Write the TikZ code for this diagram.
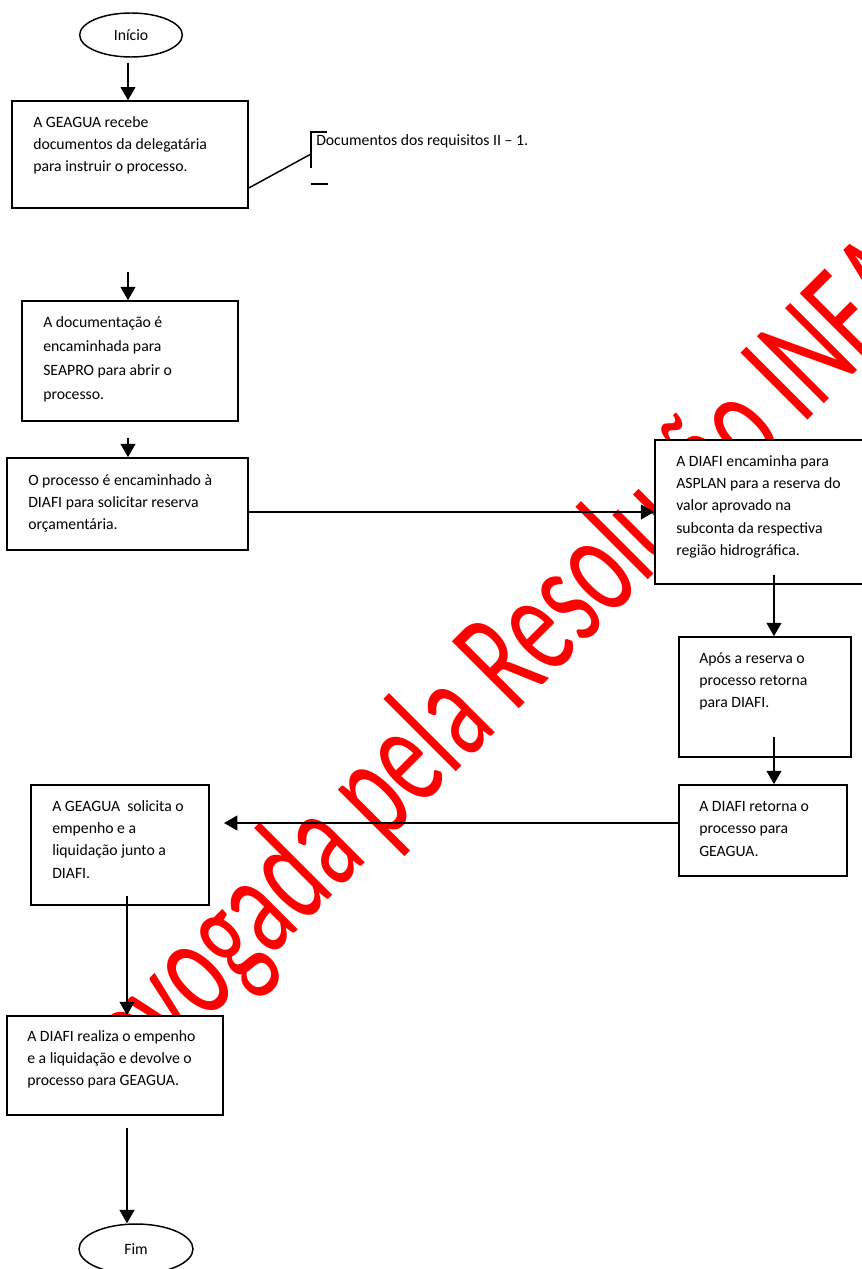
\documentclass[tikz,border=0pt]{standalone}
\usepackage{fontspec}
\setmainfont{Carlito}
\usepackage{graphicx}
\usepackage{tikz}
\usepackage{xcolor}
\usetikzlibrary{shapes.geometric,arrows.meta}

\begin{document}
\begin{tikzpicture}[x=0.75pt,y=-0.75pt,
  box/.style={draw, fill=white, line width=1.2pt, rectangle, inner sep=0pt},
  oval/.style={draw, fill=white, line width=1.1pt, ellipse, inner sep=0pt, font=\fontsize{11.8}{14}\selectfont},
  txt/.style={anchor=north west, align=left, inner sep=0pt, font=\fontsize{11.8}{16.75}\selectfont},
  arr/.style={line width=1.5pt, -{Triangle[length=10pt,width=11pt]}},
  wm/.style={red, inner sep=0pt, font=\fontsize{70.5}{80}\selectfont}]
  % Fix the page to the size of the chart
  \useasboundingbox (0,0) rectangle (861,1269);

  % Red watermark behind everything (stretched upwards)
  \node[wm, rotate=45, anchor=base west] (mark) at (108,1120) {\scalebox{1}[1.57]{Revogada pela Resolução INEA}};

  % Start and end
  \node[oval, minimum width=77pt, minimum height=33pt] (inicio) at (131,35) {Início};
  \node[oval, minimum width=85.5pt, minimum height=37.5pt] (fim) at (136,1249) {Fim};

  % Boxes of the left column
  \node[box, minimum width=177pt, minimum height=80pt] (g1) at (130,154.5) {};
  \node[txt] (t1) at (33,116) {A GEAGUA recebe\\documentos da delegatária\\para instruir o processo.};
  \node[box, minimum width=162pt, minimum height=90pt] (g2) at (130,361) {};
  \node[txt, font=\fontsize{11.8}{18}\selectfont] (t2) at (43,316) {A documentação é\\encaminhada para\\SEAPRO para abrir o\\processo.};
  \node[box, minimum width=180.75pt, minimum height=69pt] (g3) at (127.5,504) {};
  \node[txt] (t3) at (28,474) {O processo é encaminhado à\\DIAFI para solicitar reserva\\orçamentária.};

  % Boxes of the right column
  \node[box, minimum width=162pt, minimum height=108pt] (g4) at (763,512) {};
  \node[txt] (t4) at (676,455) {A DIAFI encaminha para\\ASPLAN para a reserva do\\valor aprovado na\\subconta da respectiva\\região hidrográfica.};
  \node[box, minimum width=129pt, minimum height=90pt] (g5) at (765,697) {};
  \node[txt] (t5) at (699,652) {Após a reserva o\\processo retorna\\para DIAFI.};
  \node[box, minimum width=126pt, minimum height=68.25pt] (g6) at (763,830.5) {};
  \node[txt] (t6) at (699,801) {A DIAFI retorna o\\processo para\\GEAGUA.};

  % Boxes at the bottom
  \node[box, minimum width=133.5pt, minimum height=90pt] (g7) at (120,845) {};
  \node[txt] (t7) at (52,800) {A GEAGUA~ solicita o\\empenho e a\\liquidação junto a\\DIAFI.};
  \node[box, minimum width=162pt, minimum height=74.25pt] (g8) at (115,1065.5) {};
  \node[txt] (t8) at (27,1030) {A DIAFI realiza o empenho\\e a liquidação e devolve o\\processo para GEAGUA.};

  % Note beside the first box
  \node[anchor=west, inner sep=0pt, font=\fontsize{11.8}{14}\selectfont] (doc) at (316,141) {Documentos dos requisitos II – 1.};
  \coordinate (brk) at (311,154);
  \draw[line width=1.1pt] (327,132) -- (311,132) -- (311,168);
  \draw[line width=1.1pt] (311,184) -- (328,184);
  \draw[line width=1.1pt] (g1.east |- 0,188) -- (brk);

  % Arrows
  \coordinate (s1) at (128,63);
  \coordinate (s2) at (128,272);
  \coordinate (s3) at (128,438);
  \coordinate (s5) at (774,575);
  \coordinate (s6) at (774,737);
  \coordinate (e7) at (224,823);
  \coordinate (s8) at (127,896);
  \coordinate (s9) at (127,1128);
  \draw[arr] (s1) -- (s1 |- g1.north);
  \draw[arr] (s2) -- (s2 |- g2.north);
  \draw[arr] (s3) -- (s3 |- g3.north);
  \draw[arr] (g3.east |- g4.west) -- (g4.west);
  \draw[arr] (s5) -- (s5 |- g5.north);
  \draw[arr] (s6) -- (s6 |- g6.north);
  \draw[arr] (g6.west |- e7) -- (e7);
  \draw[arr] (s8) -- (s8 |- g8.north);
  \draw[arr] (s9) -- (s9 |- fim.north);
\end{tikzpicture}
\end{document}
